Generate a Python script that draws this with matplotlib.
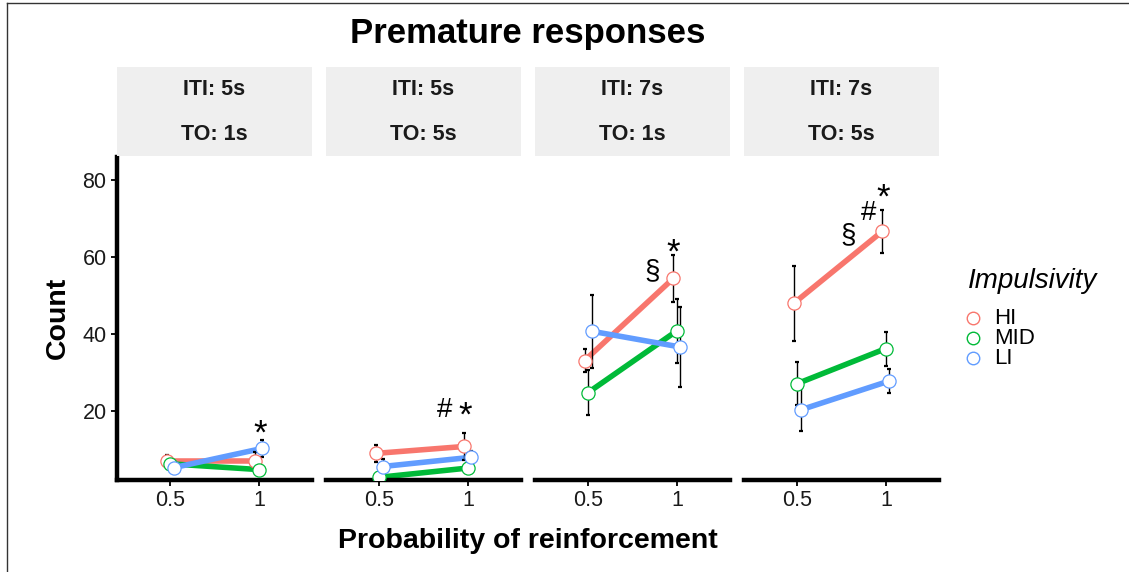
import matplotlib
matplotlib.use("Agg")
import matplotlib.pyplot as plt
from matplotlib.lines import Line2D
from matplotlib.patches import Rectangle

plt.rcParams['font.family'] = ['Liberation Sans', 'DejaVu Sans']

# ---- data ----
panels_iti = ["ITI: 5s", "ITI: 5s", "ITI: 7s", "ITI: 7s"]
panels_to = ["TO: 1s", "TO: 5s", "TO: 1s", "TO: 5s"]
prob = [0.5, 1.0]
groups = ["HI", "MID", "LI"]
colors = {"HI": "#F8766D", "MID": "#00BA38", "LI": "#619CFF"}
dodge = {"HI": -0.02, "MID": 0.0, "LI": 0.02}

# mean values per panel, [p=0.5, p=1]
hi_mean = [[7.0, 7.0], [9.1, 10.9], [33.2, 54.5], [48.0, 66.7]]
mid_mean = [[6.4, 4.9], [2.9, 5.3], [24.9, 40.9], [27.2, 36.3]]
li_mean = [[5.4, 10.4], [5.7, 8.1], [40.8, 36.7], [20.4, 27.9]]
# error half-widths
hi_err = [[1.8, 2.5], [2.3, 3.6], [3.1, 6.0], [9.8, 5.6]]
mid_err = [[1.3, 1.0], [1.5, 1.0], [5.9, 8.3], [5.5, 4.4]]
li_err = [[1.0, 2.2], [2.0, 1.5], [9.5, 10.5], [5.6, 3.0]]

means = {"HI": hi_mean, "MID": mid_mean, "LI": li_mean}
errs = {"HI": hi_err, "MID": mid_err, "LI": li_err}

# significance annotations: (panel, x, y, text)
annot_panel = [0, 1, 1, 2, 2, 3, 3, 3]
annot_x = [1.01, 0.87, 0.985, 0.86, 0.98, 0.785, 0.9, 0.985]
annot_y = [15.6, 20.3, 20.3, 56.4, 62.6, 65.7, 71.4, 76.9]
annot_txt = ["*", "#", "*", "§", "*", "§", "#", "*"]

yticks = [20, 40, 60, 80]
xticks = [0.5, 1.0]
xticklabels = ["0.5", "1"]

# ---- figure ----
W, H = 1129, 572
fig = plt.figure(figsize=(W / 100, H / 100), dpi=100)

def fx(px):
    return px / W

def fy(py):
    return 1 - py / H

axes = []
for i in range(4):
    left = 117 + i * 209
    ax = fig.add_axes([fx(left), fy(480), fx(195), fy(157) - fy(480)])
    axes.append(ax)
    ax.set_xlim(0.2, 1.3)
    ax.set_ylim(2.2, 86)
    for s in ["top", "right"]:
        ax.spines[s].set_visible(False)
    ax.spines["bottom"].set_linewidth(3.2)
    ax.spines["left"].set_linewidth(3.2)
    ax.set_xticks(xticks)
    ax.set_xticklabels(xticklabels)
    ax.tick_params(axis="x", length=4.5, width=1.3, labelsize=15.5, pad=3,
                   labelcolor="#1a1a1a")
    if i == 0:
        ax.set_yticks(yticks)
        ax.tick_params(axis="y", length=4.5, width=1.3, labelsize=15.5, pad=3,
                       labelcolor="#1a1a1a")
    else:
        ax.spines["left"].set_visible(False)
        ax.set_yticks([])

    for g in groups:
        xs = [p + dodge[g] for p in prob]
        ax.plot(xs, means[g][i], color=colors[g], lw=4.0, zorder=2,
                solid_capstyle="butt")
    for g in groups:
        xs = [p + dodge[g] for p in prob]
        ax.errorbar(xs, means[g][i], yerr=errs[g][i], fmt="none", ecolor="black",
                    elinewidth=1.0, capsize=1.2, capthick=1.6, zorder=3)
    for g in groups:
        xs = [p + dodge[g] for p in prob]
        ax.plot(xs, means[g][i], ls="none", marker="o", ms=9.5, mfc="white",
                mec=colors[g], mew=0.9, zorder=4)

    # strip
    fig.patches.append(Rectangle((fx(left), fy(155.5)), fx(195), fy(67) - fy(155.5),
                                 transform=fig.transFigure, facecolor="#EFEFEF",
                                 edgecolor="none"))
    fig.text(fx(left + 97.5), fy(90), panels_iti[i], ha="center", va="center",
             fontsize=15.5, fontweight="bold", color="#1a1a1a")
    fig.text(fx(left + 97.5), fy(134.5), panels_to[i], ha="center", va="center",
             fontsize=15.5, fontweight="bold", color="#1a1a1a")

for p, x, y, t in zip(annot_panel, annot_x, annot_y, annot_txt):
    if t == "*":
        axes[p].text(x, y - 1.5, t, ha="center", va="center", fontsize=25, color="black")
    else:
        axes[p].text(x, y, t, ha="center", va="center", fontsize=20, color="black")

# title & labels
fig.text(fx(528), fy(33), "Premature responses", ha="center", va="center",
         fontsize=25, fontweight="bold")
fig.text(fx(528), fy(541), "Probability of reinforcement", ha="center", va="center",
         fontsize=20.5, fontweight="bold")
fig.text(fx(58), fy(318), "Count", ha="center", va="center", rotation=90,
         fontsize=20.5, fontweight="bold")

# legend
fig.text(fx(968), fy(281), "Impulsivity", ha="left", va="center", fontsize=20,
         style="italic")
for k, g in enumerate(groups):
    yy = 318 + 20 * k
    fig.add_artist(Line2D([fx(973)], [fy(yy)], marker="o", ms=9, mfc="white",
                          mec=colors[g], mew=1.0, ls="none"))
    fig.text(fx(994), fy(yy), g, ha="left", va="center", fontsize=16)

# border of the screenshot
fig.add_artist(Line2D([fx(7), fx(7)], [0, fy(3)], color="#333333", lw=1.0))
fig.add_artist(Line2D([fx(7), 1], [fy(3), fy(3)], color="#333333", lw=1.0))

fig.savefig("out.png", dpi=100, facecolor="white")
